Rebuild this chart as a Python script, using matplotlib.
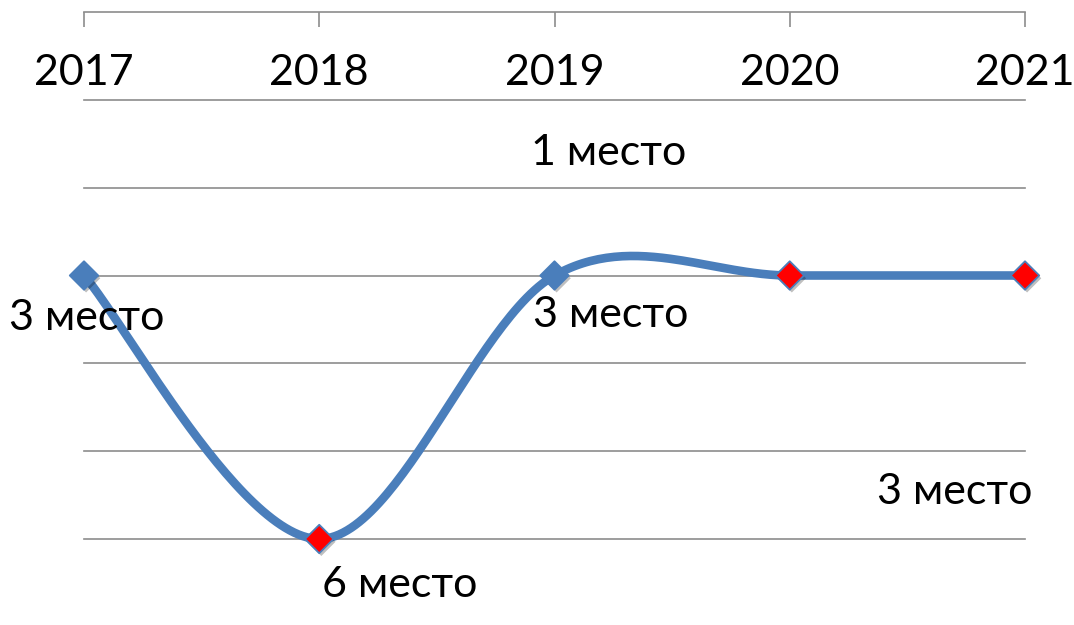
import numpy as np
import matplotlib.pyplot as plt
import matplotlib.patheffects as pe

plt.rcParams['font.family'] = ['Lato', 'DejaVu Sans']

# данные
years = ['2017', '2018', '2019', '2020', '2021']
places = [3, 6, 3, 3, 3]
marker_colors = ['#4A7EBB', '#FF0000', '#4A7EBB', '#FF0000', '#FF0000']

# подписи (текст, позиция по категории, позиция по месту)
notes = [
    ('3 место', 0.01, 3.48),
    ('6 место', 1.34, 6.52),
    ('3 место', 2.24, 3.45),
    ('1 место', 2.23, 1.60),
    ('3 место', 3.70, 5.47),
]

LINE = '#4A7EBB'
GRID = '#8C8C8C'


def smooth(xs, ys, n=60):
    # сглаживание как в Excel (Безье с касательными Catmull-Rom / 6)
    pts = np.column_stack([xs, ys]).astype(float)
    ext = np.vstack([pts[0], pts, pts[-1]])
    out = []
    for i in range(len(pts) - 1):
        p0, p1, p2, p3 = ext[i], ext[i + 1], ext[i + 2], ext[i + 3]
        c1 = p1 + (p2 - p0) / 6
        c2 = p2 - (p3 - p1) / 6
        t = np.linspace(0, 1, n)[:, None]
        seg = ((1 - t) ** 3) * p1 + 3 * ((1 - t) ** 2) * t * c1 + 3 * (1 - t) * t ** 2 * c2 + t ** 3 * p2
        out.append(seg)
    out = np.vstack(out)
    return out[:, 0], out[:, 1]


fig = plt.figure(figsize=(10.74, 6.25), dpi=100)
ax = fig.add_axes([84 / 1074, 1 - 539 / 625, (1025 - 84) / 1074, (539 - 12) / 625])

x = np.arange(len(years))
ax.set_xlim(0, len(years) - 1)
ax.set_ylim(6, 0)

for r in range(1, 7):
    ax.axhline(r, color=GRID, lw=1.2, zorder=1, clip_on=False)

sx, sy = smooth(x, places)
ax.plot(sx, sy, color=LINE, lw=6.2, solid_capstyle='butt', zorder=3, clip_on=False)

shadow = [pe.SimplePatchShadow(offset=(1.5, -2), shadow_rgbFace='k', alpha=0.25), pe.Normal()]
ax.scatter(x, places, marker='D', s=210, c=marker_colors, edgecolors=LINE, linewidths=1.3,
           zorder=4, clip_on=False, path_effects=shadow)

for xi, label in zip(x, years):
    ax.text(xi, 0.69, label, ha='center', va='center', fontsize=31, color='black')

for label, nx, ny in notes:
    ax.text(nx, ny, label, ha='center', va='center', fontsize=31, color='black', zorder=5)

for side in ['left', 'right', 'bottom']:
    ax.spines[side].set_visible(False)
ax.spines['top'].set_color(GRID)
ax.spines['top'].set_linewidth(1.2)
ax.xaxis.tick_top()
ax.set_xticks(x)
ax.set_xticklabels([])
ax.tick_params(axis='x', direction='in', length=11, width=1.2, color=GRID)
ax.set_yticks([])

fig.savefig('out.png', dpi=100)
